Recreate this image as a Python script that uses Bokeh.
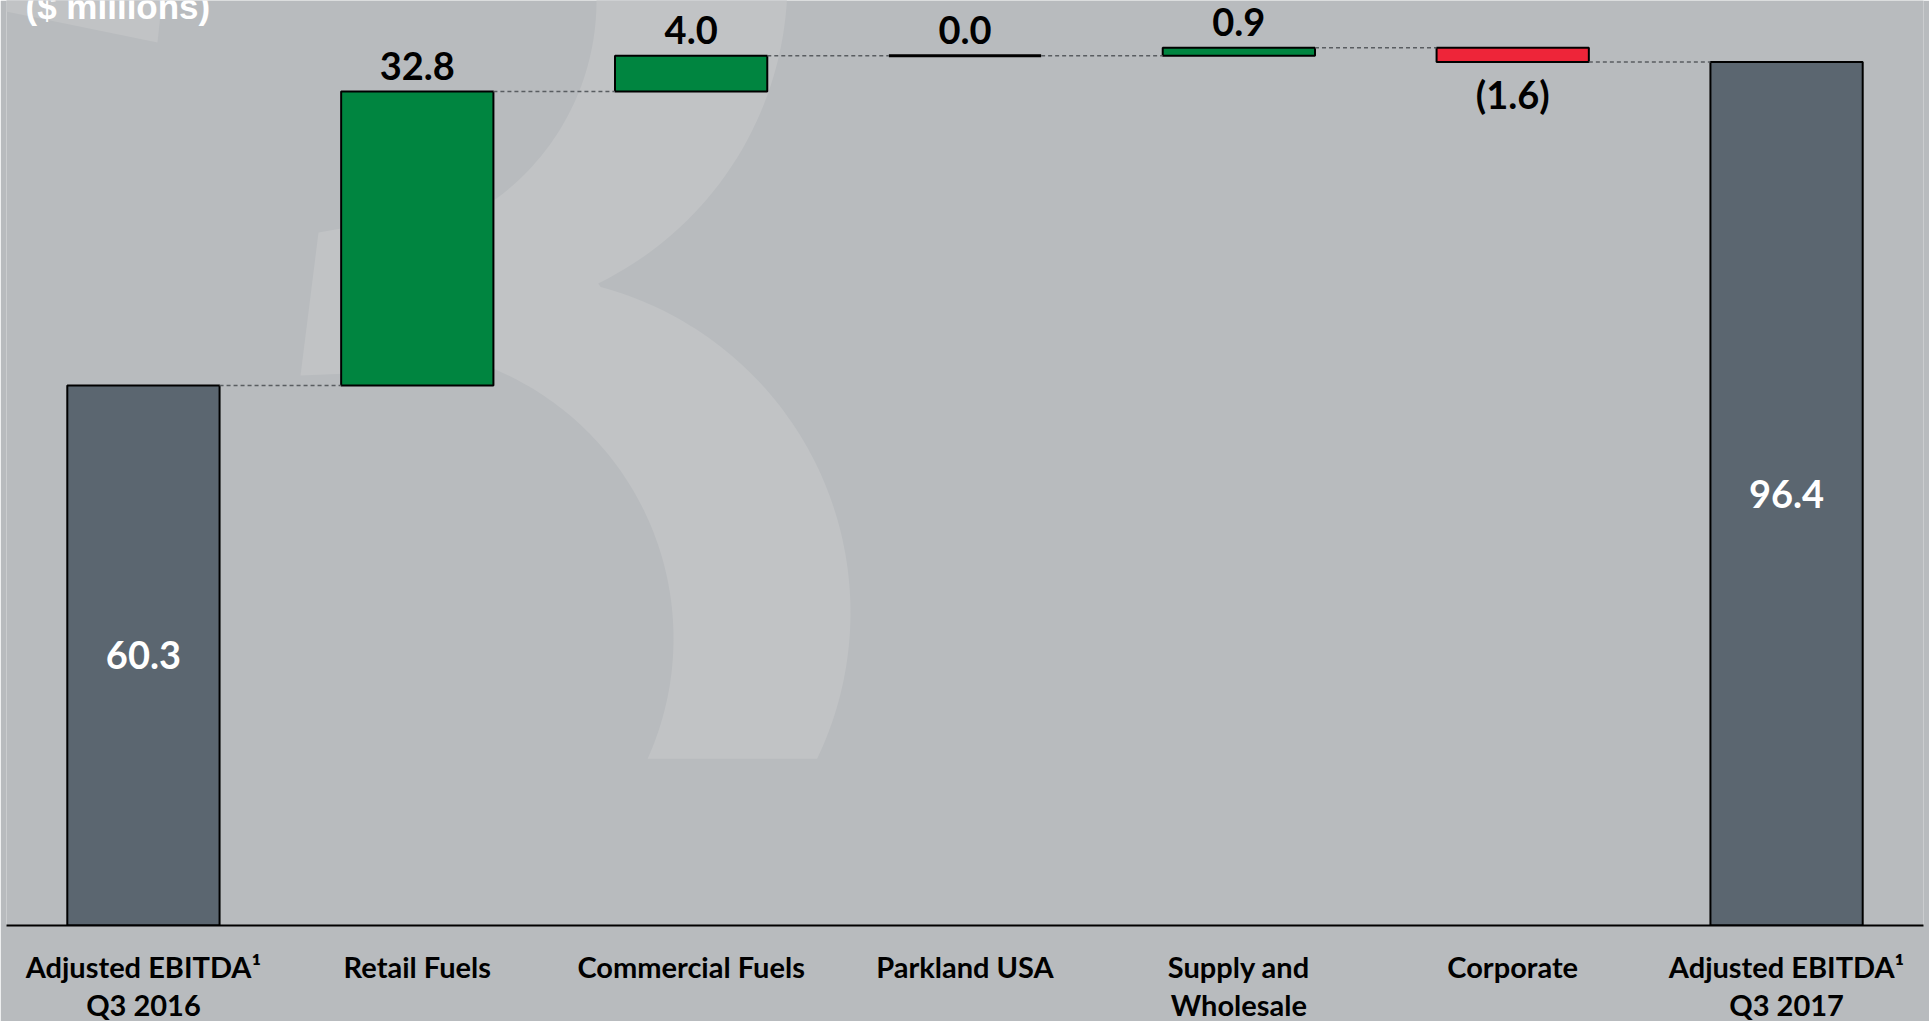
import numpy as np
from bokeh.plotting import figure
from bokeh.models import Range1d, FixedTicker
from bokeh.core.properties import value
from bokeh.embed import file_html
from bokeh.resources import INLINE

# ---- data ----
categories = ["Adjusted EBITDA\u00b9\nQ3 2016", "Retail Fuels", "Commercial Fuels", "Parkland USA",
              "Supply and\nWholesale", "Corporate", "Adjusted EBITDA\u00b9\nQ3 2017"]
start_value = 60.3
changes = [32.8, 4.0, 0.0, 0.9, -1.6]
end_value = 96.4
value_labels = ["60.3", "32.8", "4.0", "0.0", "0.9", "(1.6)", "96.4"]
title_text = "($ millions)"

BG = "#B8BBBE"
LIGHT = "#C1C3C5"
GREY = "#5B6670"
GREEN = "#008540"
RED = "#EE2539"

W, H = 1929, 1021
BL, BR, BT, BB = 6, 6, 0, 96
FW, FH = W - BL - BR, H - BT - BB
YMAX = 103.27

p = figure(frame_width=FW, frame_height=FH, output_backend="svg", toolbar_location=None,
           x_range=Range1d(-0.5, len(categories) - 0.5), y_range=Range1d(0, YMAX),
           y_axis_location=None, min_border_left=BL, min_border_right=BR,
           min_border_top=BT, min_border_bottom=BB)
p.background_fill_color = BG
p.border_fill_color = BG
p.outline_line_color = None
p.xgrid.visible = False
p.ygrid.visible = False

# ---- decorative watermark (pixel -> data helpers) ----
def dx(px):
    return -0.5 + (np.asarray(px, dtype=float) - BL) / (FW / len(categories))

def dy(py):
    return (FH - np.asarray(py, dtype=float)) * YMAX / FH

def arc(cx, cy, r, a0, a1, n=80):
    a = np.radians(np.linspace(a0, a1, n))
    return cx + r * np.cos(a), cy - r * np.sin(a)

# single outline for the "B" watermark band: upper outer arc -> cusp -> lower outer arc,
# flat bottom, lower inner arc back up, middle stem, upper inner arc back to top
uo_x, uo_y = arc(450, -20, 337, 70, -64)
lo_x, lo_y = arc(513, 612, 337, 75, -25.7)
li_x, li_y = arc(381, 638, 292, -24.3, 68)
ui_x, ui_y = arc(350, 0, 246, -55, 70)
bxs = np.concatenate([uo_x, lo_x, li_x, [300, 318], ui_x])
bys = np.concatenate([uo_y, lo_y, li_y, [375, 232], ui_y])
wm_x = [list(dx(bxs)), list(dx([0, 162, 157, 0]))]
wm_y = [list(dy(bys)), list(dy([-5, -5, 42, 10]))]
p.patches(wm_x, wm_y, fill_color=LIGHT, line_color=None)

# ---- waterfall computation ----
n = len(categories)
xs = list(range(n))
running = [start_value]
for c in changes:
    running.append(running[-1] + c)
bottoms = [0.0]
tops = [start_value]
colors = [GREY]
lws = [2]
for i, c in enumerate(changes):
    lo, hi = running[i], running[i + 1]
    bottoms.append(min(lo, hi))
    tops.append(max(lo, hi))
    colors.append(GREEN if c > 0 else (RED if c < 0 else "black"))
    lws.append(2 if c != 0 else 3)
bottoms.append(0.0)
tops.append(end_value)
colors.append(GREY)
lws.append(2)

BW = 0.556
p.vbar(x=xs, bottom=bottoms, top=tops, width=BW, fill_color=colors,
       line_color="black", line_width=lws)

# connectors
levels = [start_value] + running[1:]
cx0 = [i + BW / 2 for i in range(n - 1)]
cx1 = [i + 1 - BW / 2 for i in range(n - 1)]
p.segment(x0=cx0, y0=levels, x1=cx1, y1=levels, line_color="#595D61",
          line_width=1.5, line_dash="4 3")

# labels
font = value("Lato")
tot_x = [0, n - 1]
tot_y = [start_value / 2, end_value / 2]
p.text(x=tot_x, y=tot_y, text=[value_labels[0], value_labels[-1]], text_color="white",
       text_font=font, text_font_style="bold", text_font_size="38px",
       text_align="center", text_baseline="middle")
pos_x, pos_y, pos_t, neg_x, neg_y, neg_t = [], [], [], [], [], []
for i, c in enumerate(changes):
    if c >= 0:
        pos_x.append(i + 1); pos_y.append(tops[i + 1]); pos_t.append(value_labels[i + 1])
    else:
        neg_x.append(i + 1); neg_y.append(bottoms[i + 1]); neg_t.append(value_labels[i + 1])
p.text(x=pos_x, y=pos_y, text=pos_t, text_color="black", text_font=font,
       text_font_style="bold", text_font_size="38px", text_align="center",
       text_baseline="middle", y_offset=-26)
p.text(x=neg_x, y=neg_y, text=neg_t, text_color="black", text_font=font,
       text_font_style="bold", text_font_size="38px", text_align="center",
       text_baseline="middle", y_offset=32)

# title text (partly cut by the top edge, as in the source slide)
p.text(x=[float(dx(25))], y=[float(dy(6))], text=[title_text], text_color="white",
       text_font=value("Liberation Sans"), text_font_style="bold", text_font_size="35px",
       text_align="left", text_baseline="alphabetic")

# x axis
ax = p.xaxis[0]
ax.ticker = FixedTicker(ticks=xs)
ax.major_label_overrides = {i: c for i, c in enumerate(categories)}
ax.major_label_text_font = "Lato"
ax.major_label_text_font_style = "bold"
ax.major_label_text_font_size = "29px"
ax.major_label_text_line_height = 1.09
ax.major_label_text_color = "black"
ax.major_label_standoff = 23
ax.major_tick_line_color = None
ax.minor_tick_line_color = None
ax.major_tick_out = 0
ax.major_tick_in = 0
ax.axis_line_color = "black"
ax.axis_line_width = 2

open("out.html", "w").write(file_html(p, INLINE))
